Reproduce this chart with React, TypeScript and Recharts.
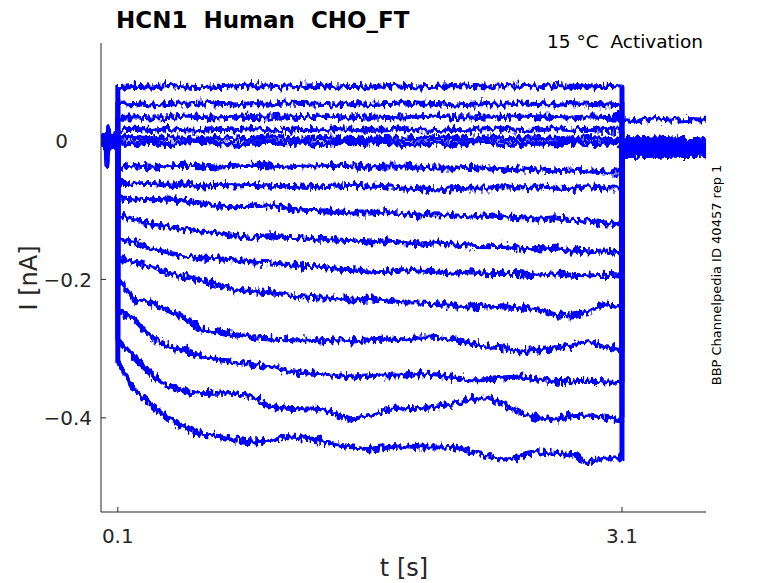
import React from 'react';
import { LineChart, Line, XAxis, YAxis } from 'recharts';

// time grids (s)
const PRE_T = [0, 0.01, 0.02, 0.03, 0.035, 0.04, 0.045, 0.05, 0.06, 0.07, 0.08, 0.09, 0.1];
const STEP_T = [0.1, 0.2, 0.3, 0.4, 0.5, 0.6, 0.7, 0.8, 0.9, 1.0, 1.1, 1.2, 1.3, 1.4, 1.5, 1.6, 1.7, 1.8, 1.9, 2.0, 2.1, 2.2, 2.3, 2.4, 2.5, 2.6, 2.7, 2.8, 2.9, 3.0, 3.1];
const TAIL_T = [3.1, 3.2, 3.3, 3.4, 3.5, 3.6];

// holding current before the step (nA)
const PRE_SPIKE = [0.006, -0.008, 0.005, -0.004, -0.036, -0.012, 0.019, -0.006, 0.007, -0.008, 0.006, -0.005, 0.002];
const PRE_FLAT_A = [-0.005, 0.007, -0.008, 0.006, 0.002, -0.007, 0.004, 0.008, -0.006, 0.005, -0.008, 0.006, -0.002];
const PRE_FLAT_B = [0.008, -0.004, 0.006, -0.009, 0.005, 0.009, -0.008, 0.003, 0.007, -0.006, 0.004, -0.009, 0.001];

// currents during the 3 s test pulse (nA)
const I_P1 = [0.077, 0.079, 0.078, 0.080, 0.078, 0.077, 0.079, 0.078, 0.080, 0.079, 0.078, 0.079, 0.080, 0.078, 0.079, 0.078, 0.080, 0.079, 0.078, 0.079, 0.080, 0.079, 0.078, 0.080, 0.079, 0.078, 0.080, 0.079, 0.078, 0.079, 0.078];
const I_P2 = [0.053, 0.054, 0.052, 0.054, 0.053, 0.055, 0.053, 0.052, 0.054, 0.053, 0.055, 0.054, 0.053, 0.052, 0.054, 0.053, 0.054, 0.055, 0.053, 0.054, 0.052, 0.053, 0.054, 0.053, 0.055, 0.054, 0.053, 0.054, 0.053, 0.052, 0.053];
const I_P3 = [0.034, 0.035, 0.033, 0.034, 0.036, 0.034, 0.033, 0.035, 0.034, 0.033, 0.035, 0.034, 0.036, 0.034, 0.033, 0.035, 0.034, 0.033, 0.035, 0.036, 0.034, 0.033, 0.035, 0.034, 0.036, 0.035, 0.034, 0.033, 0.035, 0.034, 0.035];
const I_P4 = [0.016, 0.017, 0.015, 0.018, 0.016, 0.015, 0.017, 0.016, 0.018, 0.016, 0.015, 0.017, 0.016, 0.018, 0.017, 0.015, 0.016, 0.018, 0.016, 0.015, 0.017, 0.016, 0.018, 0.017, 0.015, 0.016, 0.018, 0.016, 0.017, 0.015, 0.016];
const I_P5 = [0.004, 0.005, 0.003, 0.005, 0.004, 0.002, 0.005, 0.003, 0.004, 0.006, 0.004, 0.003, 0.005, 0.004, 0.002, 0.004, 0.005, 0.003, 0.004, 0.005, 0.003, 0.004, 0.006, 0.004, 0.003, 0.005, 0.004, 0.003, 0.005, 0.004, 0.003];
const I_P6 = [-0.003, -0.004, -0.002, -0.005, -0.003, -0.002, -0.004, -0.006, -0.003, -0.002, -0.004, -0.003, -0.005, -0.002, -0.004, -0.003, -0.002, -0.005, -0.004, -0.003, -0.005, -0.003, -0.002, -0.004, -0.005, -0.003, -0.004, -0.002, -0.004, -0.003, -0.004];
const I_N1 = [-0.039, -0.036, -0.038, -0.036, -0.035, -0.036, -0.038, -0.036, -0.035, -0.036, -0.038, -0.036, -0.036, -0.035, -0.036, -0.038, -0.036, -0.036, -0.038, -0.039, -0.039, -0.038, -0.040, -0.042, -0.040, -0.042, -0.043, -0.042, -0.043, -0.045, -0.045];
const I_N2 = [-0.061, -0.062, -0.061, -0.064, -0.062, -0.065, -0.064, -0.065, -0.064, -0.065, -0.066, -0.065, -0.066, -0.065, -0.064, -0.065, -0.066, -0.068, -0.069, -0.071, -0.069, -0.068, -0.068, -0.066, -0.068, -0.066, -0.068, -0.069, -0.066, -0.068, -0.068];
const I_N3 = [-0.082, -0.084, -0.085, -0.084, -0.087, -0.090, -0.094, -0.095, -0.094, -0.092, -0.097, -0.100, -0.101, -0.102, -0.104, -0.104, -0.102, -0.105, -0.107, -0.105, -0.108, -0.110, -0.108, -0.110, -0.111, -0.113, -0.111, -0.114, -0.116, -0.118, -0.120];
const I_N4 = [-0.107, -0.114, -0.120, -0.124, -0.127, -0.130, -0.133, -0.137, -0.139, -0.137, -0.139, -0.140, -0.142, -0.143, -0.144, -0.146, -0.144, -0.147, -0.149, -0.147, -0.150, -0.152, -0.153, -0.152, -0.155, -0.156, -0.155, -0.159, -0.160, -0.159, -0.162];
const I_N5 = [-0.140, -0.147, -0.156, -0.162, -0.166, -0.169, -0.170, -0.172, -0.175, -0.176, -0.178, -0.181, -0.182, -0.185, -0.186, -0.188, -0.189, -0.186, -0.188, -0.189, -0.191, -0.189, -0.192, -0.191, -0.192, -0.194, -0.192, -0.194, -0.195, -0.194, -0.195];
const I_N6 = [-0.169, -0.175, -0.182, -0.191, -0.196, -0.202, -0.208, -0.215, -0.218, -0.219, -0.222, -0.225, -0.227, -0.227, -0.230, -0.228, -0.231, -0.234, -0.234, -0.235, -0.238, -0.240, -0.238, -0.240, -0.241, -0.244, -0.251, -0.253, -0.248, -0.235, -0.241];
const I_N7 = [-0.198, -0.230, -0.234, -0.245, -0.256, -0.273, -0.276, -0.280, -0.284, -0.286, -0.287, -0.287, -0.289, -0.287, -0.289, -0.287, -0.286, -0.287, -0.283, -0.284, -0.287, -0.292, -0.297, -0.299, -0.305, -0.302, -0.299, -0.296, -0.290, -0.297, -0.302];
const I_N8 = [-0.244, -0.258, -0.284, -0.296, -0.303, -0.312, -0.316, -0.319, -0.323, -0.326, -0.332, -0.335, -0.336, -0.339, -0.341, -0.339, -0.338, -0.338, -0.336, -0.338, -0.342, -0.345, -0.345, -0.342, -0.341, -0.344, -0.347, -0.348, -0.347, -0.348, -0.349];
const I_N9 = [-0.287, -0.313, -0.338, -0.354, -0.362, -0.365, -0.364, -0.365, -0.370, -0.383, -0.386, -0.387, -0.388, -0.394, -0.403, -0.396, -0.388, -0.387, -0.386, -0.383, -0.380, -0.374, -0.371, -0.381, -0.393, -0.400, -0.403, -0.397, -0.396, -0.399, -0.403];
const I_N10 = [-0.319, -0.360, -0.381, -0.400, -0.414, -0.425, -0.427, -0.432, -0.435, -0.433, -0.427, -0.429, -0.432, -0.439, -0.442, -0.445, -0.443, -0.440, -0.442, -0.442, -0.443, -0.449, -0.455, -0.461, -0.455, -0.449, -0.451, -0.453, -0.464, -0.458, -0.458];

// tail currents after the pulse (nA)
const TAIL_HI = [0.031, 0.029, 0.032, 0.030, 0.031, 0.030];
const TAIL_1 = [0.002, 0.001, 0.003, 0.001, 0.002, 0.001];
const TAIL_2 = [-0.004, -0.005, -0.003, -0.005, -0.004, -0.005];
const TAIL_3 = [-0.010, -0.009, -0.011, -0.009, -0.010, -0.009];
const TAIL_4 = [-0.015, -0.016, -0.014, -0.016, -0.015, -0.016];
const TAIL_5 = [-0.021, -0.020, -0.022, -0.020, -0.021, -0.020];

const X_TICKS = [0.1, 3.1];
const X_TICK_LABELS = ['0.1', '3.1'];
const Y_TICKS = [-0.4, -0.2, 0];
const Y_TICK_LABELS = ['\u22120.4', '\u22120.2', '0'];

const TRACES = [
  { id: 'p1', pre: PRE_SPIKE, step: I_P1, tail: TAIL_HI },
  { id: 'p2', pre: PRE_FLAT_A, step: I_P2, tail: TAIL_1 },
  { id: 'p3', pre: PRE_FLAT_B, step: I_P3, tail: TAIL_2 },
  { id: 'p4', pre: PRE_FLAT_A, step: I_P4, tail: TAIL_3 },
  { id: 'p5', pre: PRE_FLAT_B, step: I_P5, tail: TAIL_4 },
  { id: 'p6', pre: PRE_FLAT_A, step: I_P6, tail: TAIL_5 },
  { id: 'n1', pre: PRE_FLAT_B, step: I_N1, tail: TAIL_1 },
  { id: 'n2', pre: PRE_FLAT_A, step: I_N2, tail: TAIL_2 },
  { id: 'n3', pre: PRE_FLAT_B, step: I_N3, tail: TAIL_3 },
  { id: 'n4', pre: PRE_FLAT_A, step: I_N4, tail: TAIL_4 },
  { id: 'n5', pre: PRE_FLAT_B, step: I_N5, tail: TAIL_5 },
  { id: 'n6', pre: PRE_FLAT_A, step: I_N6, tail: TAIL_1 },
  { id: 'n7', pre: PRE_FLAT_B, step: I_N7, tail: TAIL_2 },
  { id: 'n8', pre: PRE_FLAT_A, step: I_N8, tail: TAIL_3 },
  { id: 'n9', pre: PRE_FLAT_B, step: I_N9, tail: TAIL_4 },
  { id: 'n10', pre: PRE_FLAT_A, step: I_N10, tail: TAIL_5 },
];

const toPoints = (tr: { pre: number[]; step: number[]; tail: number[] }) => [
  ...PRE_T.map((t, i) => ({ t, v: tr.pre[i] })),
  ...STEP_T.map((t, i) => ({ t, v: tr.step[i] })),
  ...TAIL_T.map((t, i) => ({ t, v: tr.tail[i] })),
];

const FONT = 'DejaVu Sans';
const AXIS = '#262626';
const BLUE = '#0000ff';

const YTick = (props: any) => {
  const { x, y, payload } = props;
  const i = Y_TICKS.indexOf(payload.value);
  const label = Y_TICK_LABELS[i];
  const tx = payload.value === 0 ? x - 33 : x - 9;
  return (
    <g>
      <line x1={x} y1={y} x2={x + 5} y2={y} stroke={AXIS} strokeWidth={1} />
      <text x={tx} y={y} dy="0.36em" textAnchor="end" fontSize={20} fill={AXIS} fontFamily={FONT}>
        {label}
      </text>
    </g>
  );
};

const XTick = (props: any) => {
  const { x, y, payload } = props;
  const i = X_TICKS.indexOf(payload.value);
  return (
    <g>
      <line x1={x} y1={y} x2={x} y2={y - 5} stroke={AXIS} strokeWidth={1} />
      <text x={x} y={y + 31} textAnchor="middle" fontSize={20} fill={AXIS} fontFamily={FONT}>
        {X_TICK_LABELS[i]}
      </text>
    </g>
  );
};

export default function App() {
  return (
    <div style={{ position: 'absolute', left: 0, top: 0, width: 778, height: 583, background: '#fff' }}>
      <style>{'.recharts-line-curve { filter: url(#traceJitter); }'}</style>
      <svg width={0} height={0} style={{ position: 'absolute' }}>
        <defs>
          <filter
            id="traceJitter"
            filterUnits="userSpaceOnUse"
            x={0}
            y={0}
            width={778}
            height={583}
            colorInterpolationFilters="sRGB"
          >
            <feTurbulence type="fractalNoise" baseFrequency="0.3 0.12" numOctaves={2} seed={3} result="noise" />
            <feColorMatrix
              in="noise"
              type="matrix"
              values="0 0 0 0 0.5  0 1 0 0 0  0 0 1 0 0  0 0 0 0 1"
              result="vnoise"
            />
            <feDisplacementMap in="SourceGraphic" in2="vnoise" scale={12} xChannelSelector="R" yChannelSelector="G" />
          </filter>
        </defs>
      </svg>
      <LineChart width={778} height={583} margin={{ top: 43, right: 72, bottom: 31, left: 41 }}>
        <XAxis
          type="number"
          dataKey="t"
          domain={[0, 3.6]}
          ticks={X_TICKS}
          allowDataOverflow
          height={40}
          tickSize={0}
          tickMargin={0}
          tickLine={false}
          tick={<XTick />}
          axisLine={{ stroke: AXIS, strokeWidth: 1 }}
        />
        <YAxis
          type="number"
          domain={[-0.536, 0.1415]}
          ticks={Y_TICKS}
          allowDataOverflow
          width={60}
          tickSize={0}
          tickMargin={0}
          tickLine={false}
          tick={<YTick />}
          axisLine={{ stroke: AXIS, strokeWidth: 1 }}
        />
        {TRACES.map((tr) => (
          <Line
            key={tr.id}
            data={toPoints(tr)}
            dataKey="v"
            type="linear"
            stroke={BLUE}
            strokeWidth={5}
            strokeLinejoin="round"
            dot={false}
            activeDot={false}
            isAnimationActive={false}
          />
        ))}
      </LineChart>
      <svg
        width={778}
        height={583}
        style={{ position: 'absolute', left: 0, top: 0, pointerEvents: 'none' }}
        fontFamily={FONT}
      >
        <text x={116} y={28} fontSize={23} fontWeight="bold" fill="#000" style={{ whiteSpace: 'pre' }}>
          {'HCN1  Human  CHO_FT'}
        </text>
        <text x={703} y={48} fontSize={18.5} textAnchor="end" fill="#000" style={{ whiteSpace: 'pre' }}>
          {'15 \u00B0C  Activation'}
        </text>
        <text x={404} y={576} fontSize={24} textAnchor="middle" fill={AXIS}>
          t [s]
        </text>
        <text
          x={0}
          y={0}
          fontSize={24}
          textAnchor="middle"
          fill={AXIS}
          transform="translate(37 278) rotate(-90)"
        >
          I [nA]
        </text>
        <text
          x={0}
          y={0}
          fontSize={13}
          textAnchor="middle"
          fill="#000"
          transform="translate(721 275) rotate(-90)"
        >
          BBP Channelpedia ID 40457 rep 1
        </text>
      </svg>
    </div>
  );
}
